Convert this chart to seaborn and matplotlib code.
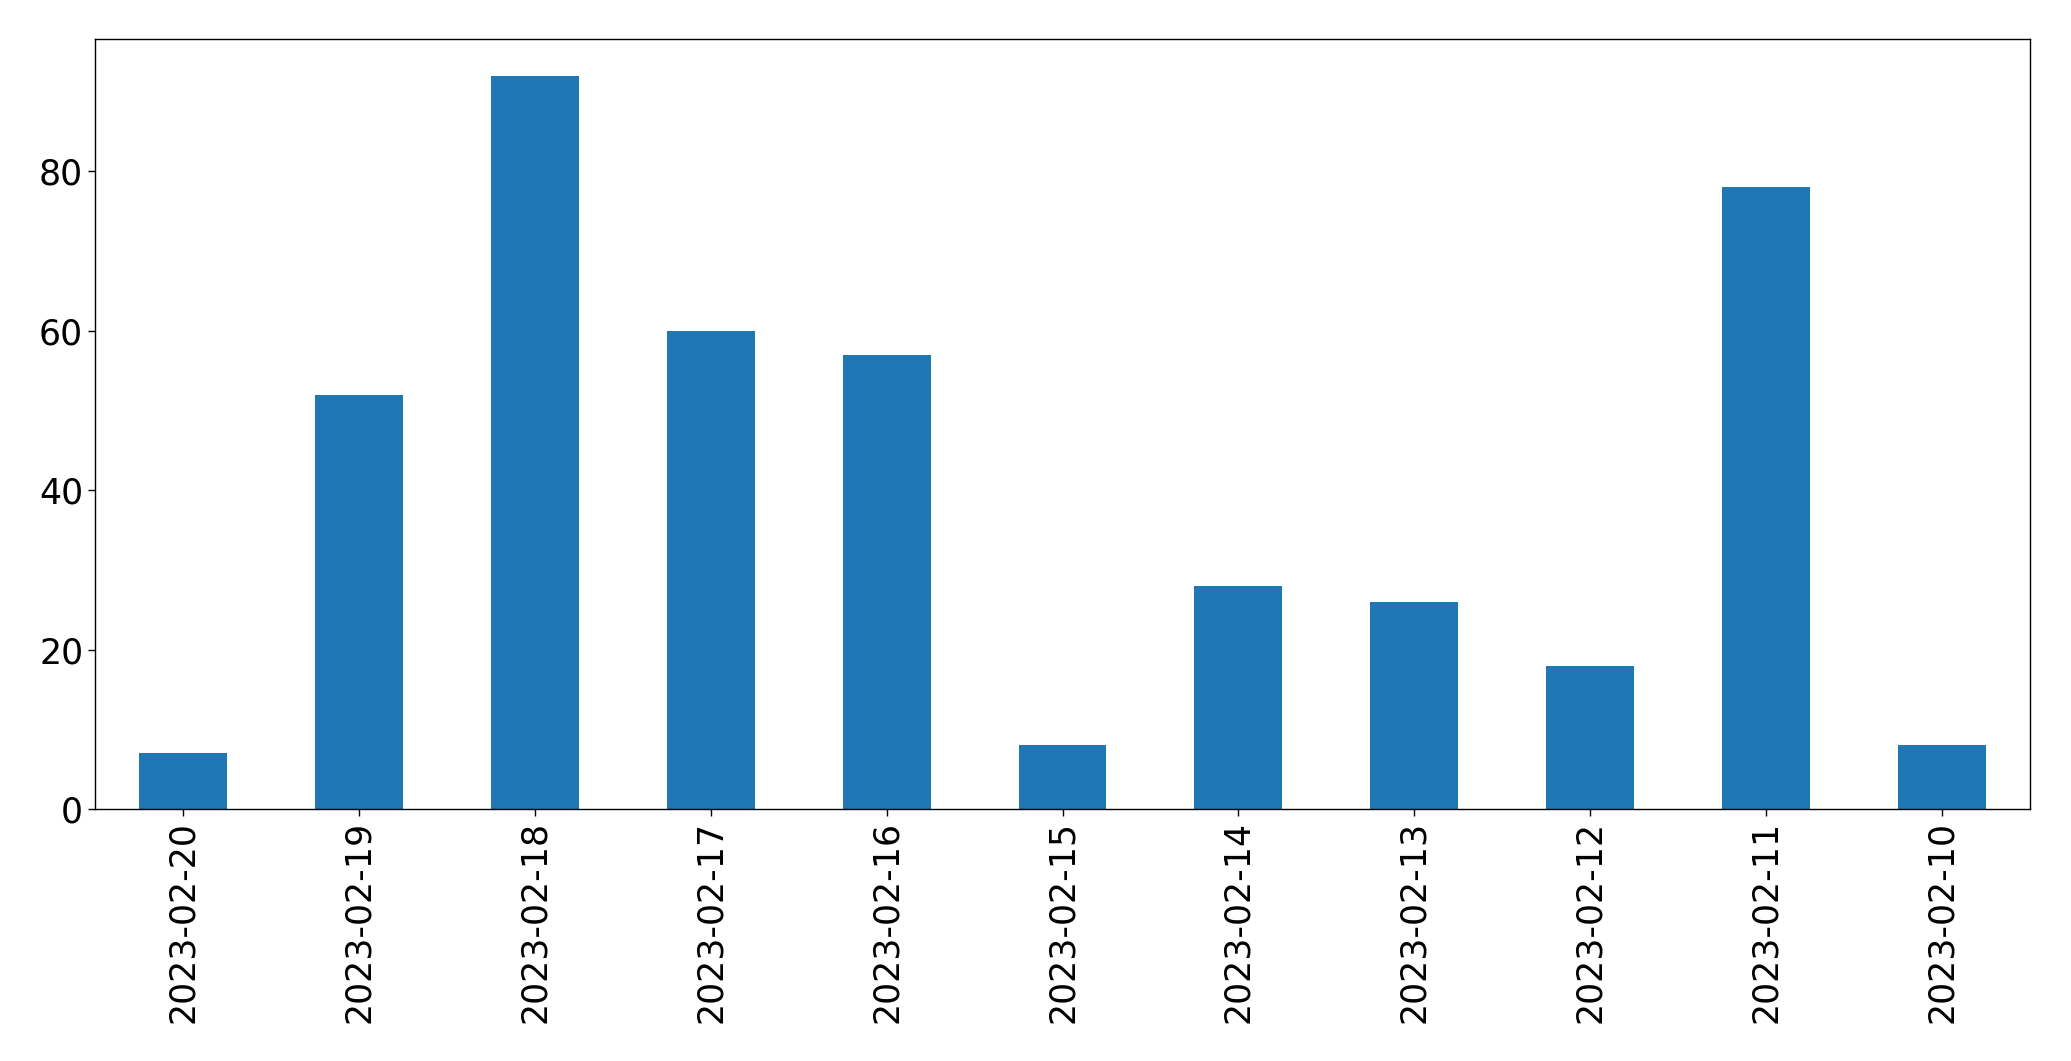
import matplotlib
matplotlib.use("Agg")
import matplotlib.pyplot as plt
import seaborn as sns
import pandas as pd

dates = ["2023-02-20", "2023-02-19", "2023-02-18", "2023-02-17", "2023-02-16",
         "2023-02-15", "2023-02-14", "2023-02-13", "2023-02-12", "2023-02-11",
         "2023-02-10"]
counts = [7, 52, 92, 60, 57, 8, 28, 26, 18, 78, 8]

df = pd.DataFrame({"date": dates, "count": counts})

sns.set_style("ticks")
plt.rcParams['font.family'] = ['DejaVu Sans']

fig = plt.figure(figsize=(20.71, 10.61), dpi=100)
ax = fig.add_axes([95/2071, 1 - 809/1061, (2030-95)/2071, (809-39)/1061])
sns.barplot(data=df, x="date", y="count", color="#1f77b4", saturation=1,
            width=0.5, ax=ax, order=dates, linewidth=0)
ax.set_xlim(-0.5, len(dates) - 0.5)
ax.set_ylim(0, 96.6)
ax.set_xlabel("")
ax.set_ylabel("")
ax.tick_params(axis="both", labelsize=25, length=5, width=1, color="black",
               labelcolor="black")
ax.tick_params(axis="x", labelrotation=90)
for s in ax.spines.values():
    s.set_visible(True)
    s.set_color("black")
    s.set_linewidth(1)
fig.savefig("out.png", dpi=100)
